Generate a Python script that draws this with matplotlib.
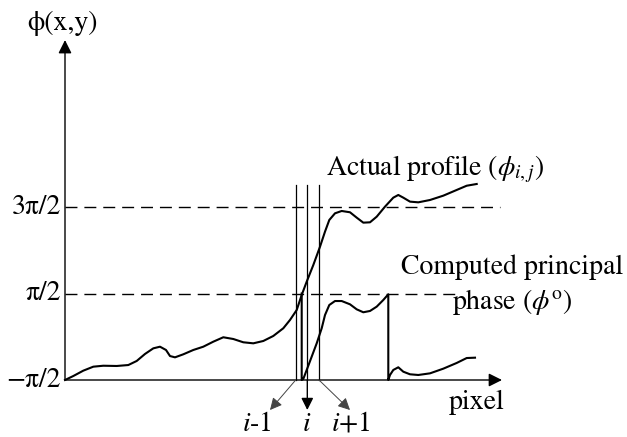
import numpy as np
import matplotlib
matplotlib.use("Agg")
import matplotlib.pyplot as plt

plt.rcParams['font.family'] = ['STIXGeneral', 'DejaVu Serif']
plt.rcParams['mathtext.fontset'] = 'stix'

# x in pixels along the profile, y in units of pi
actual_x = [0, 8.3, 18.3, 28.3, 38.3, 51.7, 63.3, 71.7, 80, 88.3, 95, 101, 105, 110,
            118.3, 128.3, 138.3, 148.3, 158.3, 168.3, 178.3, 188.3, 198.3, 208.3,
            218.3, 225, 231.7, 236.7, 241.7, 248.3, 255, 260, 264.3, 270, 276.7,
            285, 291.7, 298.3, 305, 311.7, 320, 328.3, 333.3, 338.3, 345, 353.3,
            365, 378.3, 391.7, 401.7, 411.7]
actual_y = [-0.500, -0.454, -0.392, -0.346, -0.335, -0.338, -0.327, -0.280, -0.199,
            -0.134, -0.115, -0.153, -0.223, -0.238, -0.203, -0.153, -0.115, -0.057,
            -0.006, -0.026, -0.064, -0.076, -0.049, 0.009, 0.098, 0.194, 0.309,
            0.483, 0.637, 0.829, 1.041, 1.215, 1.350, 1.427, 1.454, 1.439, 1.377,
            1.319, 1.323, 1.388, 1.504, 1.608, 1.639, 1.608, 1.562, 1.554, 1.581,
            1.631, 1.697, 1.746, 1.766]

wrapped_x = [236.7, 236.7, 238.3, 241.7, 246.7, 251.7, 256.7, 260, 264.3, 270,
             276.7, 285, 291.7, 298.3, 305, 311.7, 318.3, 323.3, 323.3, 325, 328.3,
             333.3, 338.3, 345, 353.3, 365, 378.3, 391.7, 401.7, 410]
wrapped_y = [0.500, -0.500, -0.488, -0.384, -0.230, -0.076, 0.098, 0.251, 0.367,
             0.413, 0.413, 0.375, 0.317, 0.283, 0.298, 0.348, 0.425, 0.491, -0.500,
             -0.442, -0.384, -0.353, -0.404, -0.434, -0.442, -0.423, -0.369, -0.303,
             -0.246, -0.242]

level_y = [-0.5, 0.5, 1.5]
level_labels = ['\u2212\u03c0/2', '\u03c0/2', '3\u03c0/2']
dash_end = [None, 392, 435]

pixel_lines = [230.7, 242.3, 254]
pixel_labels = ['$i$-1', '$i$', '$i$+1']
label_x = [192, 242, 286]

fig = plt.figure(figsize=(6.27, 4.37), dpi=100)
ax = fig.add_axes([0, 0, 1, 1])
ax.axis('off')
ax.set_xlim(-65, 562)
ax.set_ylim(-0.5 - 57 / 86.5, -0.5 + 380 / 86.5)

# axes with arrow heads
arr = dict(arrowstyle='-|>', color='black', lw=1.0, mutation_scale=20,
           shrinkA=0, shrinkB=0)
ax.annotate('', xy=(0, 3.43), xytext=(0, -0.5), arrowprops=arr)
ax.annotate('', xy=(437, -0.5), xytext=(0, -0.5), arrowprops=arr)

# dashed reference levels
for y, lab, xe in zip(level_y, level_labels, dash_end):
    if xe is not None:
        ax.plot([0, xe], [y, y], color='black', lw=1.0, linestyle=(0, (8.6, 5)))
    ax.text(-4, y, lab, ha='right', va='center', fontsize=20)

ax.text(-2, 3.62, '\u03d5(x,y)', ha='center', va='center', fontsize=20)
ax.text(412, -0.76, 'pixel', ha='center', va='center', fontsize=20)

# vertical pixel markers
for xv in pixel_lines:
    ax.plot([xv, xv], [-0.5, 1.754], color='black', lw=0.9)
ax.annotate('', xy=(pixel_lines[1], -0.847), xytext=(pixel_lines[1], -0.5),
            arrowprops=dict(arrowstyle='-|>', color='black', lw=1.0,
                            mutation_scale=18, shrinkA=0, shrinkB=0))
ax.annotate('', xy=(205, -0.847), xytext=(pixel_lines[0], -0.5),
            arrowprops=dict(arrowstyle='-|>', color='#444444', lw=0.7,
                            mutation_scale=18, shrinkA=0, shrinkB=0))
ax.annotate('', xy=(285, -0.847), xytext=(pixel_lines[2], -0.5),
            arrowprops=dict(arrowstyle='-|>', color='#444444', lw=0.7,
                            mutation_scale=18, shrinkA=0, shrinkB=0))
for xl, lab in zip(label_x, pixel_labels):
    ax.text(xl, -1.01, lab, ha='center', va='center', fontsize=20)

# curves
ax.plot(actual_x, actual_y, color='black', lw=1.5, solid_joinstyle='round')
ax.plot(wrapped_x, wrapped_y, color='black', lw=1.5, solid_joinstyle='round')

ax.text(370, 1.94, r'Actual profile ($\phi_{i,j}$)', ha='center', va='center', fontsize=20)
ax.text(447, 0.81, 'Computed principal', ha='center', va='center', fontsize=20)
ax.text(447, 0.40, r'phase ($\phi^{\mathrm{o}}$)', ha='center', va='center', fontsize=20)

fig.savefig('out.png', dpi=100)
